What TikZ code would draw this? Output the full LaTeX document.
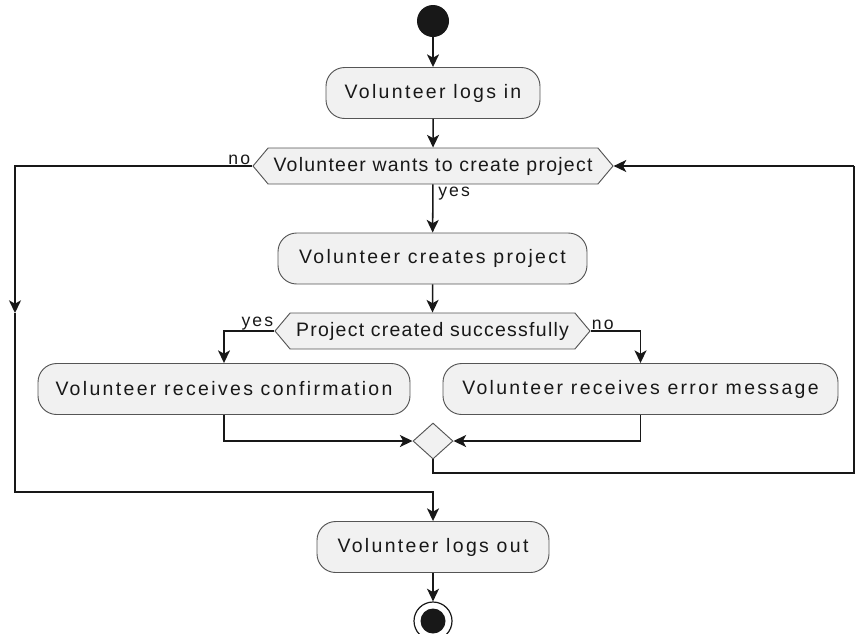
\documentclass[tikz,border=0pt]{standalone}
\usepackage{fontspec}
\setmainfont{Liberation Sans}[LetterSpace=12]
\usetikzlibrary{arrows.meta,shapes.geometric,shapes.symbols}
\definecolor{boxfill}{HTML}{F1F1F1}
\definecolor{ink}{HTML}{181818}
\definecolor{edge}{HTML}{555555}
\begin{document}
\begin{tikzpicture}[x=0.75pt,y=-0.75pt,
  act/.style={draw=edge, line width=0.7pt, fill=boxfill, rounded corners=14pt,
    minimum height=51*0.75pt, inner sep=0pt, text=ink,
    font=\fontsize{14.6}{17}\selectfont},
  dec/.style={signal, signal to=west and east, signal pointer angle=100,
    draw=edge, line width=0.7pt, fill=boxfill, minimum height=36*0.75pt,
    inner sep=0pt, text=ink,
    font=\fontsize{14.6}{17}\selectfont\addfontfeatures{LetterSpace=6.5}},
  merge/.style={diamond, draw=edge, line width=0.7pt, fill=boxfill,
    minimum width=40*0.75pt, minimum height=36*0.75pt, inner sep=0pt},
  lbl/.style={text=ink, inner sep=0pt, font=\fontsize{13.2}{15}\selectfont},
  link/.style={draw=ink, line width=1.15pt},
  flow/.style={link, -{Stealth[length=9.5pt,width=9pt,inset=2.5pt]}}]
\useasboundingbox (0,0) rectangle (855,633);

% nodes
\node[circle, fill=ink, minimum size=32*0.75pt, inner sep=0pt] (start) at (433,21) {};
\node[act, minimum width=214*0.75pt] (login) at (433,93) {Volunteer logs in};
\node[dec, minimum width=360*0.75pt] (want) at (433,166) {Volunteer wants to create project};
\node[act, minimum width=309*0.75pt] (create) at (432.5,258.5) {Volunteer creates project};
\node[dec, minimum width=315*0.75pt] (ok) at (432.5,331) {Project created successfully};
\node[act, minimum width=372*0.75pt] (conf) at (224,389) {Volunteer receives confirmation};
\node[act, minimum width=395*0.75pt] (err) at (640.5,389) {Volunteer receives error message};
\node[merge] (join) at (433,441) {};
\node[act, minimum width=232*0.75pt] (logout) at (433,547) {Volunteer logs out};
\node[circle, draw=ink, line width=0.9pt, fill=white, minimum size=38*0.75pt, inner sep=0pt] (stop) at (433,621) {};
\fill[ink] (stop.center) circle[radius=12.5*0.75pt];

% helper points of the loops
\coordinate (lefttop) at (15,166);
\coordinate (leftmid) at (15,313);
\coordinate (leftbot) at (15,492);
\coordinate (rightbot) at (854,473);
\coordinate (righttop) at (854,166);

% connectors
\draw[flow] (start) -- (login);
\draw[flow] (login) -- (want);
\draw[flow] (want) -- (create);
\draw[flow] (create) -- (ok);
\draw[flow] (ok.west) -| (conf.north);
\draw[flow] (ok.east) -| (err.north);
\draw[flow] (conf.south) |- (join.west);
\draw[flow] (err.south) |- (join.east);
\draw[link] (join.south) |- (rightbot) -- (righttop);
\draw[flow] (righttop) -- (want.east);
\draw[flow] (want.west) -- (lefttop) -- (leftmid);
\draw[link] (leftmid) -- (leftbot) -| (logout.north |- 0,500);
\draw[flow] (leftbot -| logout.north) -- (logout.north);
\draw[flow] (logout) -- (stop);

% branch labels
\node[lbl, anchor=south east] (lno) at ([xshift=-2*0.75pt,yshift=1*0.75pt]want.west) {no};
\node[lbl, anchor=north west] (lyes) at ([xshift=5*0.75pt,yshift=-2*0.75pt]want.south) {yes};
\node[lbl, anchor=south east] (lyes2) at ([xshift=-1*0.75pt,yshift=1*0.75pt]ok.west) {yes};
\node[lbl, anchor=south west] (lno2) at ([xshift=1*0.75pt,yshift=1*0.75pt]ok.east) {no};
\end{tikzpicture}
\end{document}
